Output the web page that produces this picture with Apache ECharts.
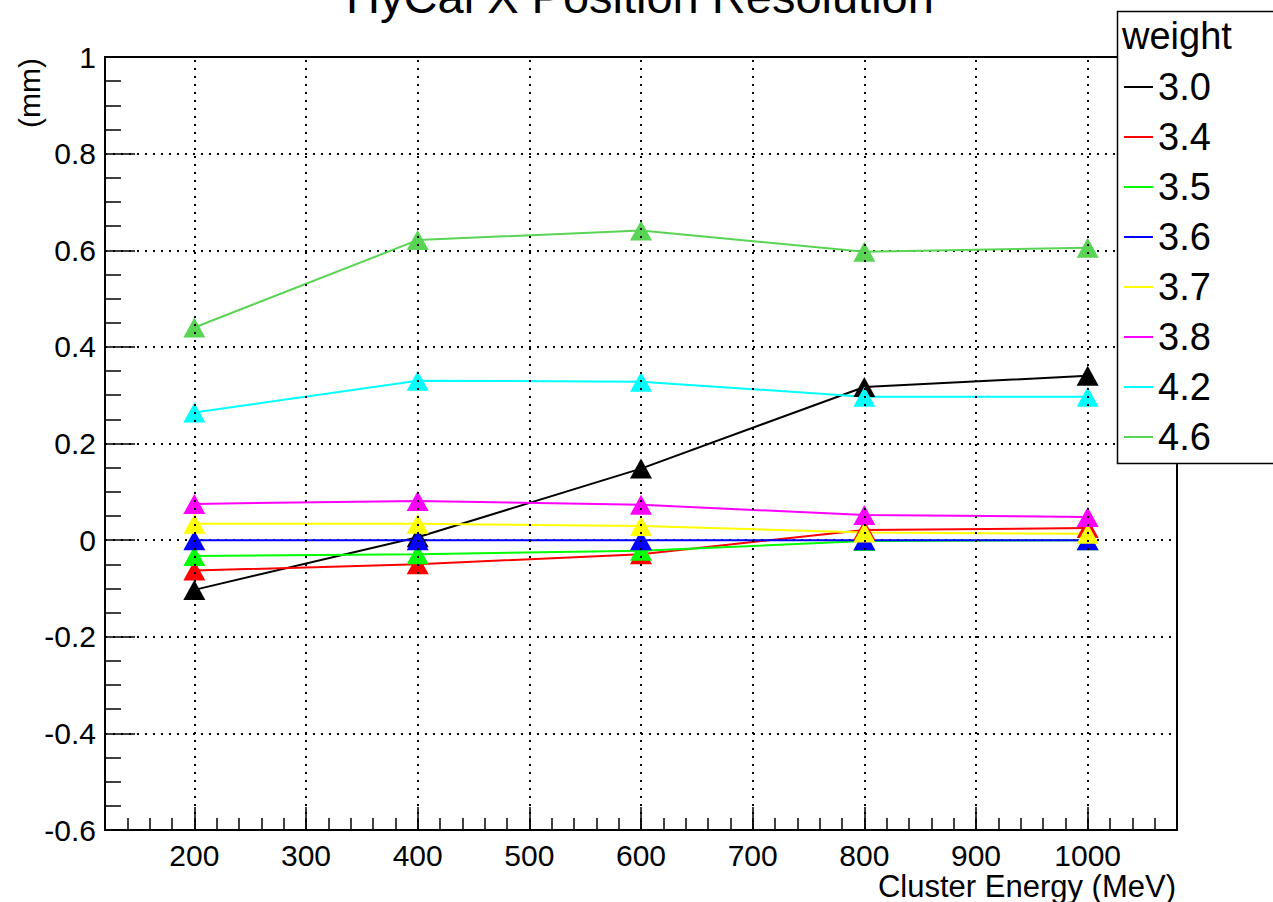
<!DOCTYPE html>
<html>
<head>
<meta charset="utf-8">
<script src="https://cdn.jsdelivr.net/npm/echarts@6/dist/echarts.min.js"></script>
<style>
html,body{margin:0;padding:0;background:#fff;}
#c{width:1273px;height:902px;}
</style>
</head>
<body>
<div id="c"></div>
<script>
// ---- data ----
const energies = [200, 400, 600, 800, 1000];
const weights = ['3.0', '3.4', '3.5', '3.6', '3.7', '3.8', '4.2', '4.6'];
const w30 = [-0.103, 0.006, 0.148, 0.317, 0.340];
const w34 = [-0.063, -0.050, -0.029, 0.021, 0.025];
const w35 = [-0.033, -0.029, -0.022, -0.002, 0.000];
const w36 = [0.000, 0.000, 0.000, 0.000, 0.000];
const w37 = [0.034, 0.034, 0.029, 0.016, 0.013];
const w38 = [0.075, 0.081, 0.073, 0.052, 0.048];
const w42 = [0.264, 0.330, 0.328, 0.297, 0.297];
const w46 = [0.440, 0.621, 0.641, 0.597, 0.605];
const xMajorTicks = [200, 300, 400, 500, 600, 700, 800, 900, 1000];

const seriesValues = [w30, w34, w35, w36, w37, w38, w42, w46];
const colors = ['#000000', '#ff0000', '#00ff00', '#0000ff', '#ffff00', '#ff00ff', '#00ffff', '#59d454'];
const F = '"Liberation Sans", Arial, Helvetica, sans-serif';

const chart = echarts.init(document.getElementById('c'), null, {renderer: 'svg'});

const dataSeries = seriesValues.map((vals, i) => ({
  name: weights[i],
  type: 'line',
  xAxisIndex: 0,
  yAxisIndex: 0,
  data: energies.map((e, j) => [e, vals[j]]),
  symbol: 'triangle',
  symbolSize: [22, 20],
  showSymbol: true,
  itemStyle: {color: colors[i], borderWidth: 0},
  lineStyle: {color: colors[i], width: 2},
  emphasis: {disabled: true},
  z: 3,
  animation: false
}));

const gridSeries = {
  type: 'line',
  xAxisIndex: 0,
  yAxisIndex: 0,
  data: [],
  z: 1,
  silent: true,
  animation: false,
  markLine: {
    silent: true,
    animation: false,
    symbol: ['none', 'none'],
    label: {show: false},
    emphasis: {disabled: true},
    lineStyle: {color: '#000', type: [2, 6], width: 2},
    data: xMajorTicks.map(v => ({xAxis: v}))
  }
};

const option = {
  animation: false,
  backgroundColor: '#fff',
  grid: {
    left: 105, right: 96, top: 57, bottom: 72,
    show: true, borderColor: '#000', borderWidth: 2,
    backgroundColor: 'transparent',
    containLabel: false,
    outerBoundsMode: 'none'
  },
  xAxis: [
    {
      type: 'value', min: 120, max: 1080, position: 'bottom',
      axisLine: {show: true, onZero: false, lineStyle: {color: '#000', width: 2}},
      axisTick: {show: true, inside: true, length: 23, customValues: xMajorTicks, lineStyle: {color: '#000', width: 1.5}},
      axisLabel: {show: true, customValues: xMajorTicks, color: '#000', fontSize: 30, lineHeight: 26, fontFamily: F, margin: 12,
        formatter: v => String(v)},
      splitLine: {show: false}
    },
    {
      type: 'value', min: 120, max: 1080, interval: 20, position: 'bottom',
      axisLine: {show: false, onZero: false},
      axisTick: {show: true, inside: true, length: 12, lineStyle: {color: '#000', width: 1.5}},
      axisLabel: {show: false},
      splitLine: {show: false}
    }
  ],
  yAxis: {
    type: 'value', min: -0.6, max: 1, interval: 0.2, position: 'left',
    axisLine: {show: true, onZero: false, lineStyle: {color: '#000', width: 2}},
    axisTick: {show: true, inside: true, length: 30, lineStyle: {color: '#000', width: 1.5}},
    minorTick: {show: true, splitNumber: 4, length: 16, lineStyle: {color: '#000', width: 1.5}},
    axisLabel: {color: '#000', fontSize: 30, fontFamily: F, margin: 9,
      formatter: v => String(Math.round(v * 10) / 10)},
    splitLine: {show: true, lineStyle: {color: '#000', type: [2, 6], width: 2}}
  },
  legend: {
    orient: 'vertical', left: 1124, top: 62, padding: 0, itemGap: 0,
    itemWidth: 29, itemHeight: 2, icon: 'rect', selectedMode: false, z: 102,
    textStyle: {fontSize: 38, fontFamily: F, color: '#000', lineHeight: 50},
    data: weights
  },
  graphic: [
    {type: 'text', x: 640, y: -4, z: 50,
      style: {text: 'HyCal X Position Resolution', font: '47px ' + F, fill: '#000', align: 'center', verticalAlign: 'middle'}},
    {type: 'text', x: 1176, y: 886, z: 50,
      style: {text: 'Cluster Energy (MeV)', font: '31px ' + F, lineHeight: 28, fill: '#000', align: 'right', verticalAlign: 'middle'}},
    {type: 'text', x: 29, y: 58, rotation: Math.PI / 2, z: 50,
      style: {text: '(mm)', font: '30px ' + F, fill: '#000', align: 'right', verticalAlign: 'middle'}},
    {type: 'rect', z: 100, shape: {x: 1117.5, y: 11.5, width: 200, height: 452},
      style: {fill: '#fff', stroke: '#000', lineWidth: 1.5}},
    {type: 'text', x: 1122, y: 36, z: 101,
      style: {text: 'weight', font: '38px ' + F, fill: '#000', align: 'left', verticalAlign: 'middle'}}
  ],
  series: [gridSeries].concat(dataSeries)
};

chart.setOption(option);
</script>
</body>
</html>
